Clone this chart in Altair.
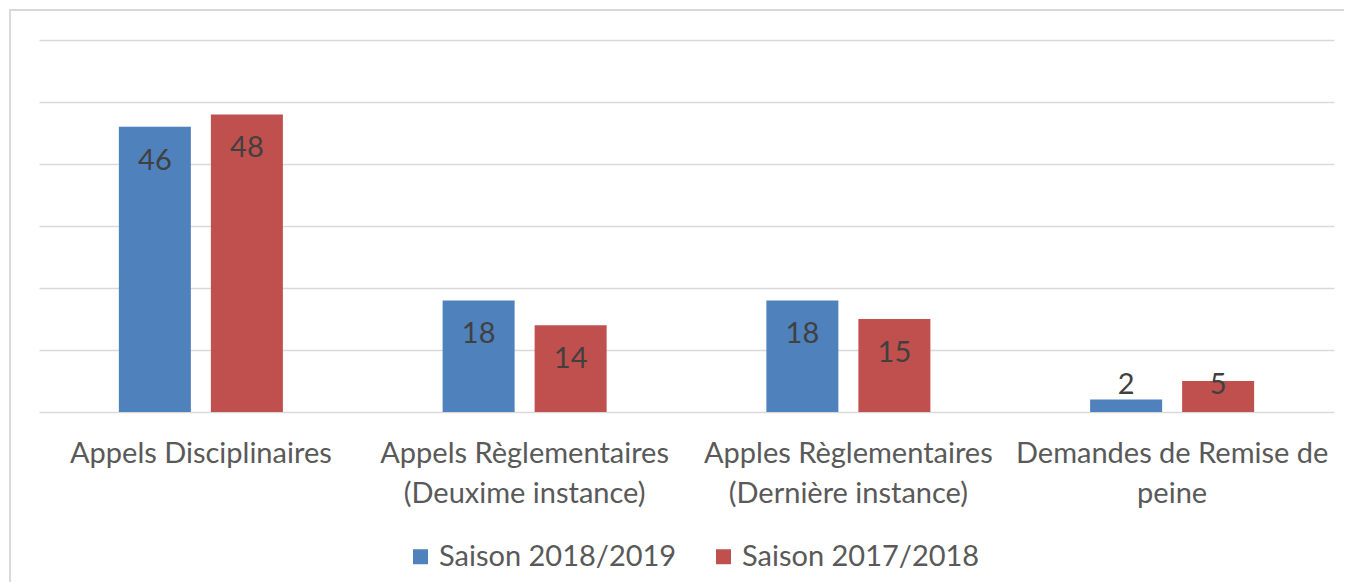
import altair as alt
import pandas as pd

categories = [
    "Appels Disciplinaires",
    "Appels Règlementaires (Deuxime instance)",
    "Apples Règlementaires (Dernière instance)",
    "Demandes de Remise de peine",
]
label_lines = [
    ["Appels Disciplinaires"],
    ["Appels Règlementaires", "(Deuxime instance)"],
    ["Apples Règlementaires", "(Dernière instance)"],
    ["Demandes de Remise de", "peine"],
]
series = ["Saison 2018/2019", "Saison 2017/2018"]
values_2018_2019 = [46, 18, 18, 2]
values_2017_2018 = [48, 14, 15, 5]
colors = ["#4F81BD", "#C0504D"]
y_ticks = [0, 10, 20, 30, 40, 50, 60]

FONT = "Lato"
FS = 29
W, H = 1295, 372

rows = []
for s, vals in zip(series, [values_2018_2019, values_2017_2018]):
    for c, v in zip(categories, vals):
        rows.append({"categorie": c, "saison": s, "valeur": v})
df = pd.DataFrame(rows)

# label expression for wrapped category names
expr = "''"
for c, lines in reversed(list(zip(categories, label_lines))):
    arr = "[" + ",".join("'" + l + "'" for l in lines) + "]"
    expr = f"datum.value == '{c}' ? {arr} : ({expr})"

x_enc = alt.X(
    "categorie:N",
    sort=categories,
    title=None,
    scale=alt.Scale(paddingInner=0, paddingOuter=0),
    axis=alt.Axis(
        labelExpr=expr,
        labelFontSize=FS,
        labelColor="#595959",
        labelFont=FONT,
        labelLineHeight=40,
        labelPadding=27,
        labelLimit=0,
        ticks=False,
        domain=False,
        grid=False,
        labelAngle=0,
    ),
)
xoff = alt.XOffset(
    "saison:N",
    sort=series,
    scale=alt.Scale(paddingInner=0.2174, paddingOuter=0.868),
)
y_scale = alt.Scale(domain=[0, 60])

bars = alt.Chart(df).mark_bar().encode(
    x=x_enc,
    xOffset=xoff,
    y=alt.Y(
        "valeur:Q",
        scale=y_scale,
        title=None,
        axis=alt.Axis(
            values=y_ticks,
            labels=False,
            ticks=False,
            domain=False,
            grid=True,
            gridColor="#d9d9d9",
            gridWidth=1.5,
        ),
    ),
    color=alt.Color(
        "saison:N",
        sort=series,
        scale=alt.Scale(domain=series, range=colors),
        legend=alt.Legend(
            title=None,
            orient="none",
            legendX=367,
            legendY=502,
            direction="horizontal",
            symbolType="square",
            symbolSize=225,
            symbolStrokeWidth=0,
            labelFontSize=FS,
            labelFont=FONT,
            labelColor="#595959",
            labelOffset=4,
            labelLimit=500,
            columnPadding=32,
        ),
    ),
)

labels = alt.Chart(df).transform_calculate(
    pos="max(datum.valeur - 5.45, 4.35)"
).mark_text(
    baseline="middle", align="center", fontSize=FS, font=FONT, color="#404040"
).encode(
    x=alt.X("categorie:N", sort=categories),
    xOffset=xoff,
    y=alt.Y("pos:Q", scale=y_scale),
    text=alt.Text("valeur:Q"),
)

frame = alt.Chart(pd.DataFrame({"a": [0]})).mark_rect(
    fillOpacity=0, stroke="#d9d9d9", strokeWidth=2
).encode(
    x=alt.value(-29), x2=alt.value(1400), y=alt.value(-30), y2=alt.value(800)
)

chart = alt.layer(frame, bars, labels).properties(
    width=W,
    height=H,
    autosize=alt.AutoSizeParams(type="none"),
    padding={"left": 31, "top": 32, "right": 10, "bottom": 170},
).configure(
    background="white",
    view=alt.ViewConfig(stroke="transparent", strokeWidth=0),
)

chart.save("out.html", embed_options={"renderer": "svg", "actions": False})
